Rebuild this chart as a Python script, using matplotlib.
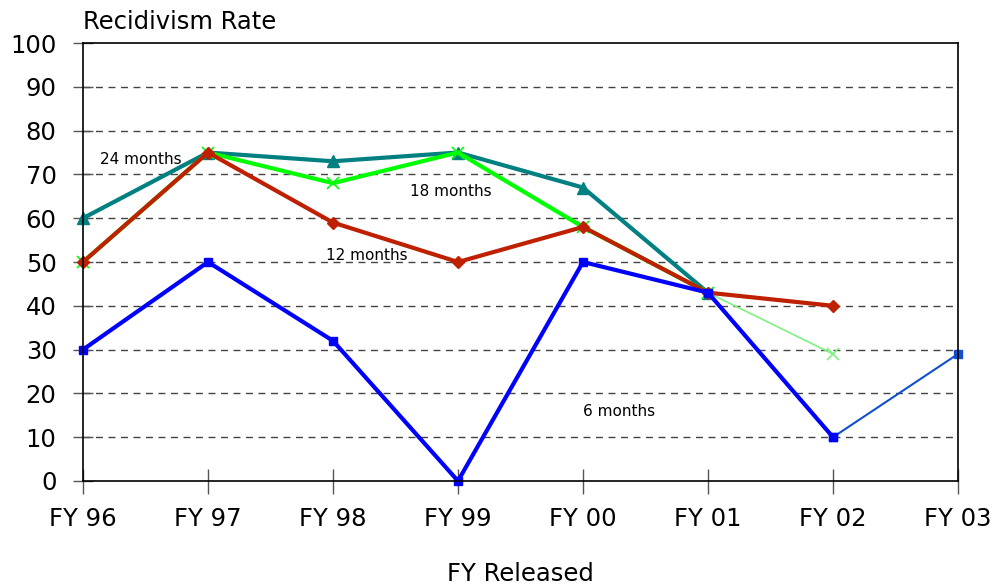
import numpy as np
import matplotlib.pyplot as plt

years = ["FY 96", "FY 97", "FY 98", "FY 99", "FY 00", "FY 01", "FY 02", "FY 03"]

# recidivism rate by follow-up period (None = not yet available)
m24 = [60, 75, 73, 75, 67, 43, None, None]
m18 = [50, 75, 68, 75, 58, 43, None, None]
m18_partial = [None, None, None, None, None, 43, 29, None]
m12 = [50, 75, 59, 50, 58, 43, 40, None]
m6 = [30, 50, 32, 0, 50, 43, 10, None]
m6_partial = [None, None, None, None, None, None, 10, 29]


def arr(v):
    return np.array([np.nan if a is None else a for a in v], dtype=float)


x = np.arange(len(years))

fig = plt.figure(figsize=(10, 5.87), dpi=100)
ax = fig.add_axes([0.083, 0.1806, 0.875, 0.7461])

ax.plot(x, arr(m18_partial), color="#80F080", lw=1.2, marker="x", ms=8, mew=1.2, clip_on=False)
ax.plot(x, arr(m6_partial), color="#1050D0", lw=1.5, marker="s", ms=6, clip_on=False)
ax.plot(x, arr(m24), color="#008080", lw=3, marker="^", ms=8, clip_on=False)
ax.plot(x, arr(m18), color="#00FF00", lw=3, marker="x", ms=8, mew=1.2, clip_on=False)
ax.plot(x, arr(m12), color="#BF2000", lw=3, marker="D", ms=6, clip_on=False)
ax.plot(x, arr(m6), color="#0000FF", lw=3, marker="s", ms=6, clip_on=False)

ax.text(0.14, 73.5, "24 months", fontsize=11, va="center")
ax.text(2.62, 66.2, "18 months", fontsize=11, va="center")
ax.text(1.94, 51.6, "12 months", fontsize=11, va="center")
ax.text(4.0, 15.8, "6 months", fontsize=11, va="center")

ax.set_xlim(0, 7)
ax.set_ylim(0, 100)
ax.set_xticks(x)
ax.set_xticklabels(years)
ax.set_yticks(np.arange(0, 101, 10))
for yv in range(10, 100, 10):
    ax.axhline(yv, color="#444444", lw=1, ls=(0, (5, 4)), zorder=0)
ax.tick_params(axis="both", labelsize=17.5, width=1, color="#555555", direction="inout")
ax.tick_params(axis="x", length=18, pad=10)
ax.tick_params(axis="y", length=14, pad=12)
for s in ax.spines.values():
    s.set_linewidth(1.2)

ax.set_xlabel("FY Released", fontsize=17.5, labelpad=22)
ax.text(0, 102, "Recidivism Rate", fontsize=17.5, ha="left", va="bottom")

fig.savefig("out.png", dpi=100)
